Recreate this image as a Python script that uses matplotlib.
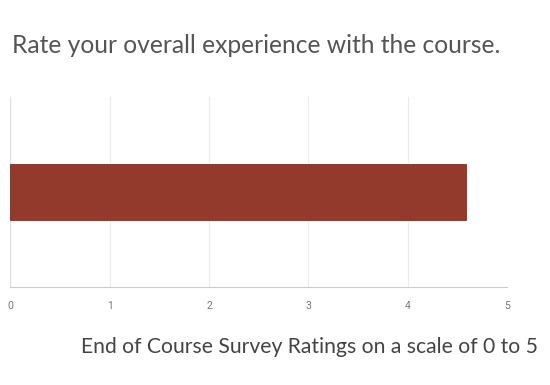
import matplotlib
matplotlib.use("Agg")
import matplotlib.pyplot as plt

categories = ["Overall experience"]
ratings = [4.59]
ticks = [0, 1, 2, 3, 4, 5]

fig = plt.figure(figsize=(5.5, 3.85), dpi=100)
ax = fig.add_axes([0.019, 0.2545, 0.903, 0.4935])

ax.barh(categories, ratings, height=0.29, color="#933a2c", edgecolor="#7e2f22", linewidth=0.6, zorder=3)
ax.set_xlim(0, 5)
ax.set_ylim(-0.5, 0.5)
ax.set_xticks(ticks)
ax.set_yticks([])
ax.grid(axis="x", color="#ebebeb", linewidth=0.8, zorder=0)
for side in ["top", "right"]:
    ax.spines[side].set_visible(False)
ax.spines["left"].set_color("#e0e0e0")
ax.spines["bottom"].set_color("#cccccc")
ax.tick_params(axis="x", length=0, pad=10, labelsize=7.5, labelcolor="#777777")
for lbl in ax.get_xticklabels():
    lbl.set_family("Roboto")

fig.text(0.022, 0.883, "Rate your overall experience with the course.",
         family="Lato", fontsize=17.7, color="#555555", va="center", ha="left")
fig.text(0.978, 0.098, "End of Course Survey Ratings on a scale of 0 to 5",
         family="Lato", fontsize=15.2, color="#444444", va="center", ha="right")

fig.savefig("out.png", dpi=100)
